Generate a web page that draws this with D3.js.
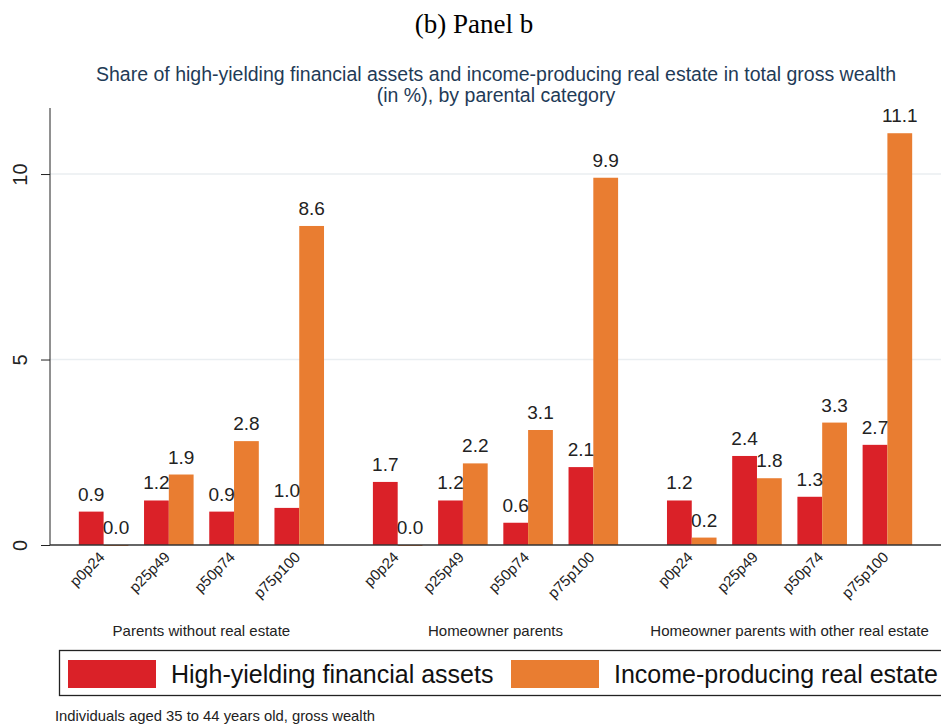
<!DOCTYPE html>
<html>
<head>
<meta charset="utf-8">
<script src="https://cdn.jsdelivr.net/npm/d3@7"></script>
<style>
  body { margin: 0; background: #fff; }
  svg { display: block; font-family: "Liberation Sans", Arial, sans-serif; }
</style>
</head>
<body>
<svg id="chart" width="941" height="725"></svg>
<script>
// data
const groups = ['Parents without real estate', 'Homeowner parents', 'Homeowner parents with other real estate']
const categories = ['p0p24', 'p25p49', 'p50p74', 'p75p100']
const series = ['High-yielding financial assets', 'Income-producing real estate']
const financialAssets = [
  [0.9, 1.2, 0.9, 1.0],
  [1.7, 1.2, 0.6, 2.1],
  [1.2, 2.4, 1.3, 2.7]
]
const realEstate = [
  [0.0, 1.9, 2.8, 8.6],
  [0.0, 2.2, 3.1, 9.9],
  [0.2, 1.8, 3.3, 11.1]
]
const yTicks = [0, 5, 10]
const colors = ['#da2128', '#e97d31']

const svg = d3.select('#chart')
const W = 941
const margin = { left: 50, top: 108, bottom: 545 }

// titles
svg.append('text')
  .attr('x', 474).attr('y', 33)
  .attr('text-anchor', 'middle')
  .style('font-family', '"Liberation Serif", "Times New Roman", serif')
  .style('font-size', '27px')
  .text('(b) Panel b')

const titleLines = ['Share of high-yielding financial assets and income-producing real estate in total gross wealth', '(in %), by parental category']
svg.selectAll('.title')
  .data(titleLines)
  .enter()
  .append('text')
  .attr('x', 496)
  .attr('y', (d, i) => 81 + i * 21)
  .attr('text-anchor', 'middle')
  .attr('fill', '#1f3b57')
  .style('font-size', '19.5px')
  .text(d => d)

// scales
const y = d3.scaleLinear().domain([0, 11.78]).range([margin.bottom, margin.top])
const xGroup = d3.scaleBand().domain(groups).range([71, 920]).paddingInner(0.113).paddingOuter(0)
const xCat = d3.scaleBand().domain(categories).range([0, xGroup.bandwidth()]).paddingInner(0.24).paddingOuter(0.12)
const xSer = d3.scaleBand().domain(series).range([0, xCat.bandwidth()])

// gridlines
svg.selectAll('.grid')
  .data(yTicks.filter(d => d > 0))
  .enter()
  .append('line')
  .attr('x1', margin.left).attr('x2', W)
  .attr('y1', d => y(d)).attr('y2', d => y(d))
  .attr('stroke', '#eaeef1')
  .attr('stroke-width', 1.5)

// y axis
const yAxis = svg.append('g')
  .attr('transform', `translate(${margin.left},0)`)
  .call(d3.axisLeft(y).tickValues(yTicks).tickSize(9).tickFormat(d3.format('d')))
yAxis.select('.domain').attr('stroke', '#222').attr('d', `M-0,${margin.top}V${margin.bottom}`)
yAxis.selectAll('.tick line').attr('stroke', '#222')
yAxis.selectAll('.tick text')
  .attr('x', null).attr('dy', null)
  .attr('transform', 'translate(-30,0) rotate(-90)')
  .attr('text-anchor', 'middle')
  .attr('dy', '0.35em')
  .attr('fill', '#222')
  .style('font-size', '20px')

// bars
const rows = []
groups.forEach((g, gi) => {
  categories.forEach((c, ci) => {
    rows.push({ g, c, s: series[0], v: financialAssets[gi][ci], k: 0 })
    rows.push({ g, c, s: series[1], v: realEstate[gi][ci], k: 1 })
  })
})
const barX = d => xGroup(d.g) + xCat(d.c) + xSer(d.s)

svg.selectAll('rect.bar')
  .data(rows)
  .enter()
  .append('rect')
  .attr('class', 'bar')
  .attr('x', barX)
  .attr('width', xSer.bandwidth())
  .attr('y', d => y(d.v))
  .attr('height', d => Math.max(y(0) - y(d.v), d.v === 0 ? 1 : 0))
  .attr('fill', d => colors[d.k])

svg.selectAll('text.val')
  .data(rows)
  .enter()
  .append('text')
  .attr('class', 'val')
  .attr('x', d => barX(d) + xSer.bandwidth() / 2)
  .attr('y', d => y(d.v) - 11)
  .attr('text-anchor', 'middle')
  .attr('fill', '#222')
  .style('font-size', '19px')
  .text(d => d.v.toFixed(1))

// x baseline
svg.append('line')
  .attr('x1', margin.left).attr('x2', W)
  .attr('y1', y(0)).attr('y2', y(0))
  .attr('stroke', '#333').attr('stroke-width', 1.3)

// category labels
groups.forEach(g => {
  svg.selectAll(null)
    .data(categories)
    .enter()
    .append('text')
    .attr('transform', c => `translate(${xGroup(g) + xCat(c) + xCat.bandwidth() / 2 + 2},${y(0) + 13}) rotate(-45)`)
    .attr('text-anchor', 'end')
    .attr('fill', '#222')
    .style('font-size', '15px')
    .text(c => c)
})

svg.selectAll('text.group')
  .data(groups)
  .enter()
  .append('text')
  .attr('class', 'group')
  .attr('x', g => xGroup(g) + xGroup.bandwidth() / 2)
  .attr('y', 636)
  .attr('text-anchor', 'middle')
  .attr('fill', '#222')
  .style('font-size', '15px')
  .text(g => g)

// legend
svg.append('rect')
  .attr('x', 59.5).attr('y', 650.5)
  .attr('width', 900).attr('height', 45)
  .attr('fill', 'none').attr('stroke', '#222').attr('stroke-width', 1.3)

const legendX = [68, 511]
series.forEach((s, i) => {
  svg.append('rect')
    .attr('x', legendX[i]).attr('y', 660)
    .attr('width', 88).attr('height', 28)
    .attr('fill', colors[i])
  svg.append('text')
    .attr('x', legendX[i] + 103).attr('y', 683)
    .attr('fill', '#111')
    .style('font-size', '25px')
    .text(s)
})

svg.append('text')
  .attr('x', 55).attr('y', 721)
  .attr('fill', '#222')
  .style('font-size', '14.8px')
  .text('Individuals aged 35 to 44 years old, gross wealth')
</script>
</body>
</html>
